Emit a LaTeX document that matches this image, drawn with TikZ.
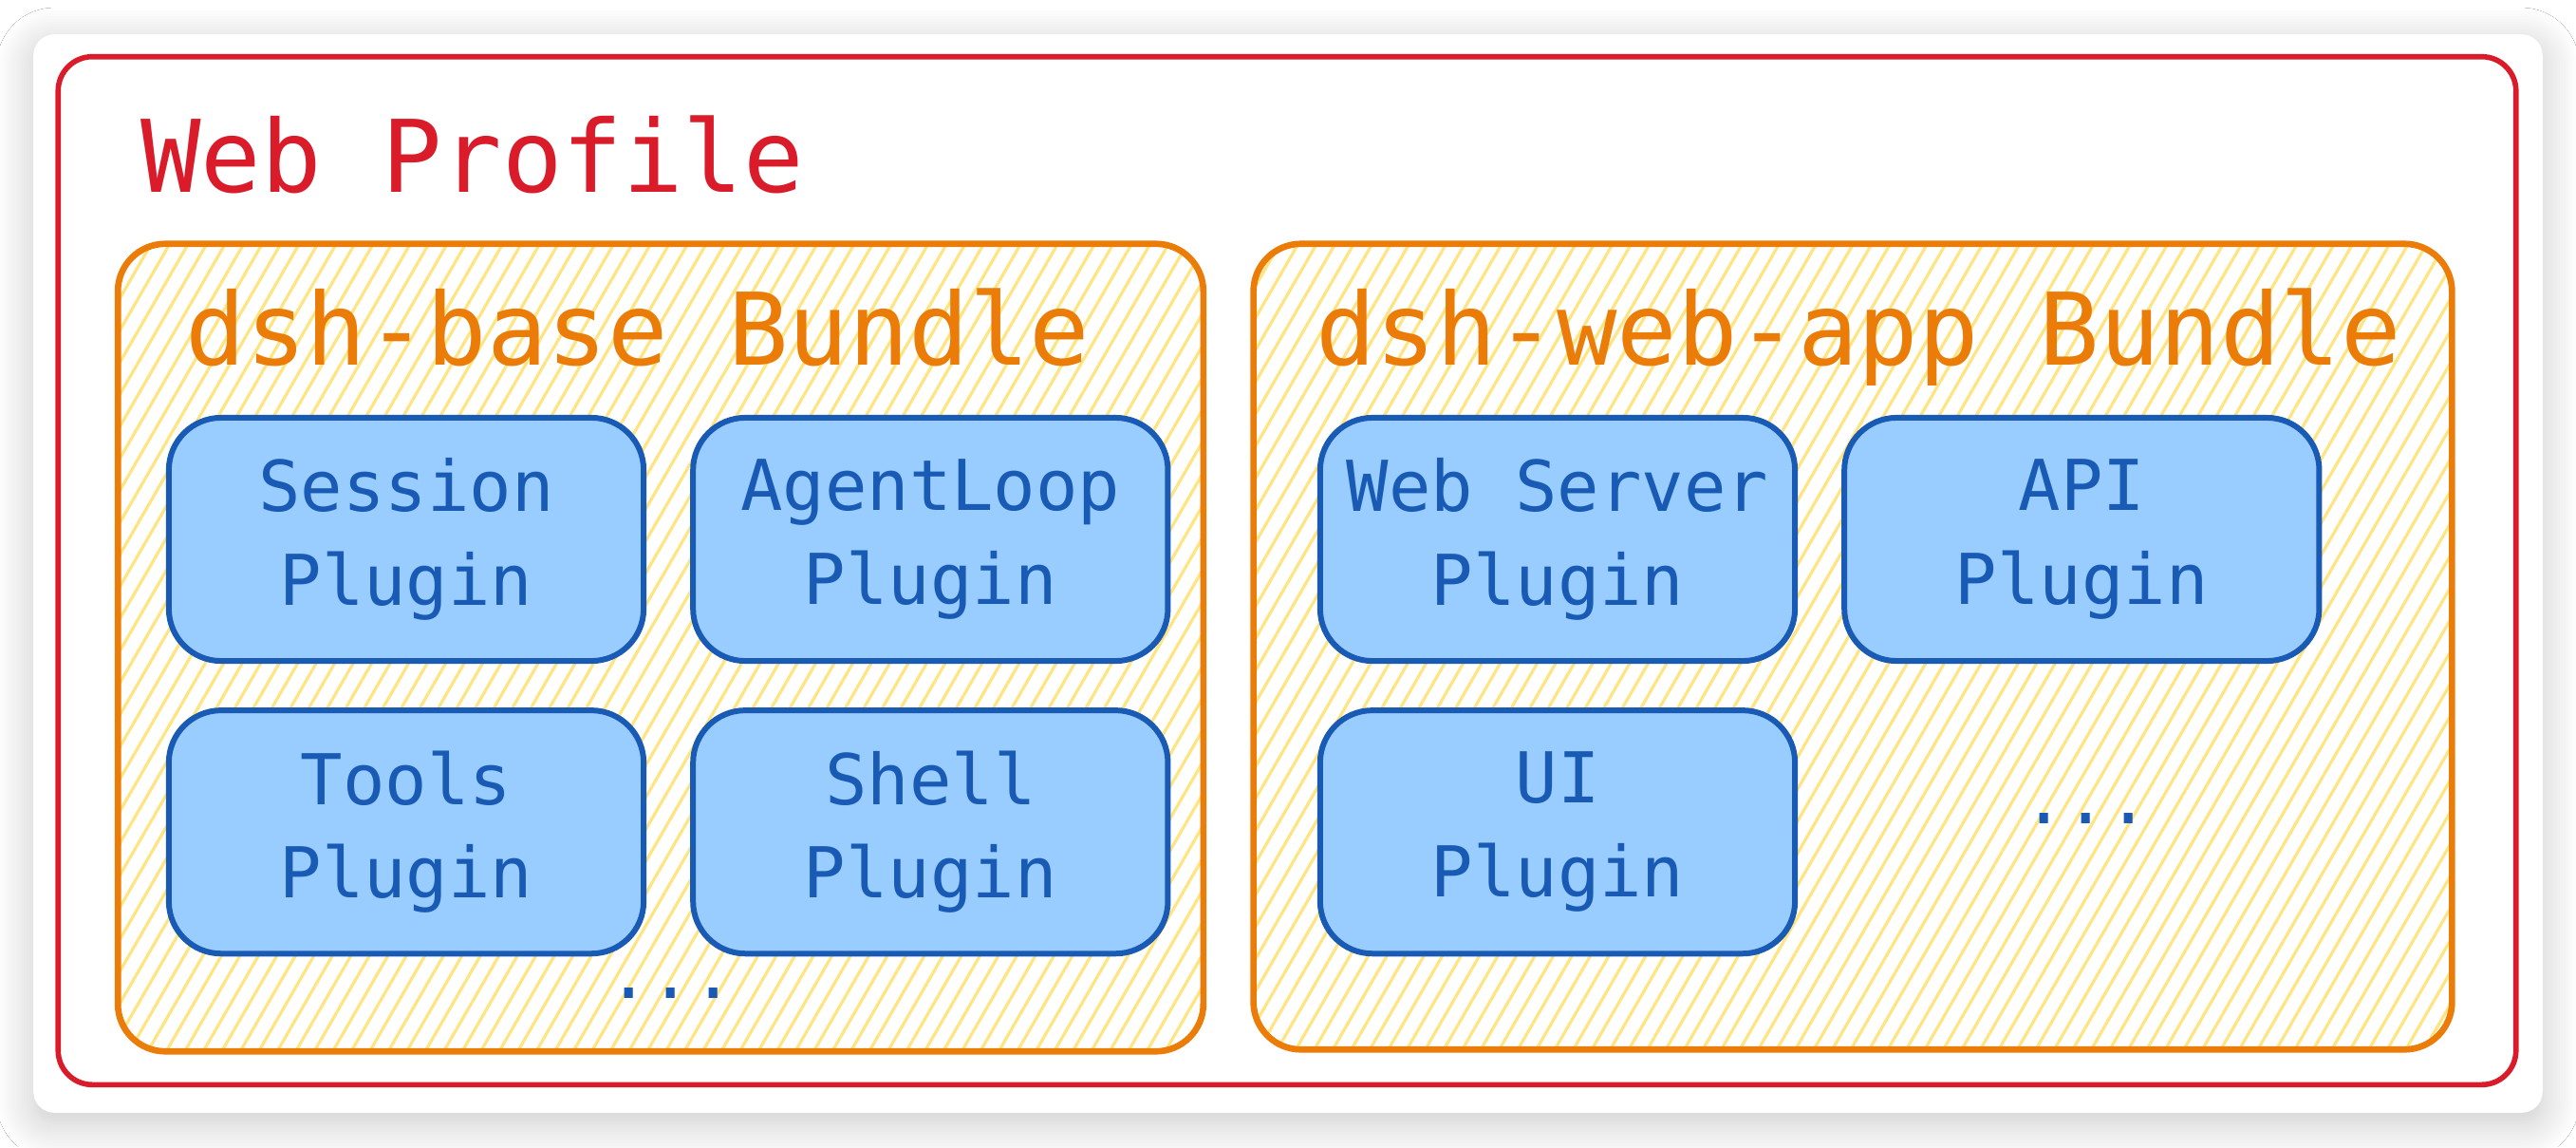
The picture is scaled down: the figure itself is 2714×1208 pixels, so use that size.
\documentclass[tikz,border=0pt]{standalone}
\usepackage{fontspec}
\setmonofont{DejaVu Sans Mono}
\usetikzlibrary{positioning}
\usetikzlibrary{shadows.blur}
\usetikzlibrary{patterns.meta}
\definecolor{profilered}{RGB}{217,27,42}
\definecolor{bundleorange}{RGB}{235,124,8}
\definecolor{pluginblue}{RGB}{25,90,180}
\definecolor{pluginfill}{RGB}{153,204,255}
\definecolor{hatchyellow}{RGB}{255,228,130}
\tikzset{
        boxnode/.style={rectangle, inner sep=0pt, outer sep=0pt},
        % White card behind everything
        node_card/.style={boxnode, rounded corners=0.22cm, fill=white, minimum width=26.42cm, minimum height=11.35cm,
            blur shadow={shadow xshift=0pt, shadow yshift=-3pt, shadow blur radius=11pt, shadow blur steps=14, shadow opacity=22}},
        % Profile frame
        node_profile/.style={boxnode, rounded corners=0.36cm, draw=profilered, line width=1.6pt},
        % Bundle frames
        node_bundle/.style={boxnode, rounded corners=0.5cm, draw=bundleorange, line width=1.9pt,
            pattern={Lines[angle=60, distance=4.8pt, line width=0.9pt]}, pattern color=hatchyellow},
        % Plugin nodes
        node_plugin/.style={boxnode, rounded corners=0.55cm, draw=pluginblue, fill=pluginfill, line width=1.7pt,
            text=pluginblue, align=center, minimum width=5cm, minimum height=2.56cm,
            font=\ttfamily\fontsize{21}{28}\selectfont},
        % Titles
        node_title/.style={boxnode, font=\ttfamily\fontsize{30}{36}\selectfont},
        % More plugins
        node_dots/.style={boxnode, text=pluginblue, font=\ttfamily\fontsize{21}{28}\selectfont}
}
\begin{document}
\begin{tikzpicture}[x=0.01cm, y=-0.01cm, node distance=0.52cm]
    \fill[white] (0,0) rectangle (2714,1208);
    \useasboundingbox (0,0) rectangle (2714,1208);
    \node[node_card] (card) at (1357,604) {};
    \node[node_profile, minimum width=25.88cm, minimum height=10.82cm] (profile) at (1356,601) {};
    \node[node_title, text=profilered, anchor=base west] (profile_title) at (148,202) {Web Profile};

    \node[node_bundle, minimum width=11.43cm, minimum height=8.5cm] (base_bundle) at (696,682) {};
    \node[node_bundle, minimum width=12.62cm, minimum height=8.48cm] (web_bundle) at (1952,681) {};
    \node[node_title, text=bundleorange, anchor=base] (base_title) at (672,384) {dsh-base Bundle};
    \node[node_title, text=bundleorange, anchor=base] (web_title) at (1958,384) {dsh-web-app Bundle};

    % dsh-base plugins
    \node[node_plugin] (session) at (428,568) {Session\\Plugin};
    \node[node_plugin, right=of session] (agentloop) {AgentLoop\\Plugin};
    \node[node_plugin, below=of session] (tools) {Tools\\Plugin};
    \node[node_plugin, right=of tools] (shell) {Shell\\Plugin};
    \node[node_dots] (base_dots) at (707,1046) {...};

    % dsh-web-app plugins
    \node[node_plugin] (webserver) at (1641,568) {Web Server\\Plugin};
    \node[node_plugin, right=of webserver] (api) {API\\Plugin};
    \node[node_plugin, below=of webserver] (ui) {UI\\Plugin};
    \node[node_dots] (web_dots) at (2198,862) {...};
\end{tikzpicture}
\end{document}
